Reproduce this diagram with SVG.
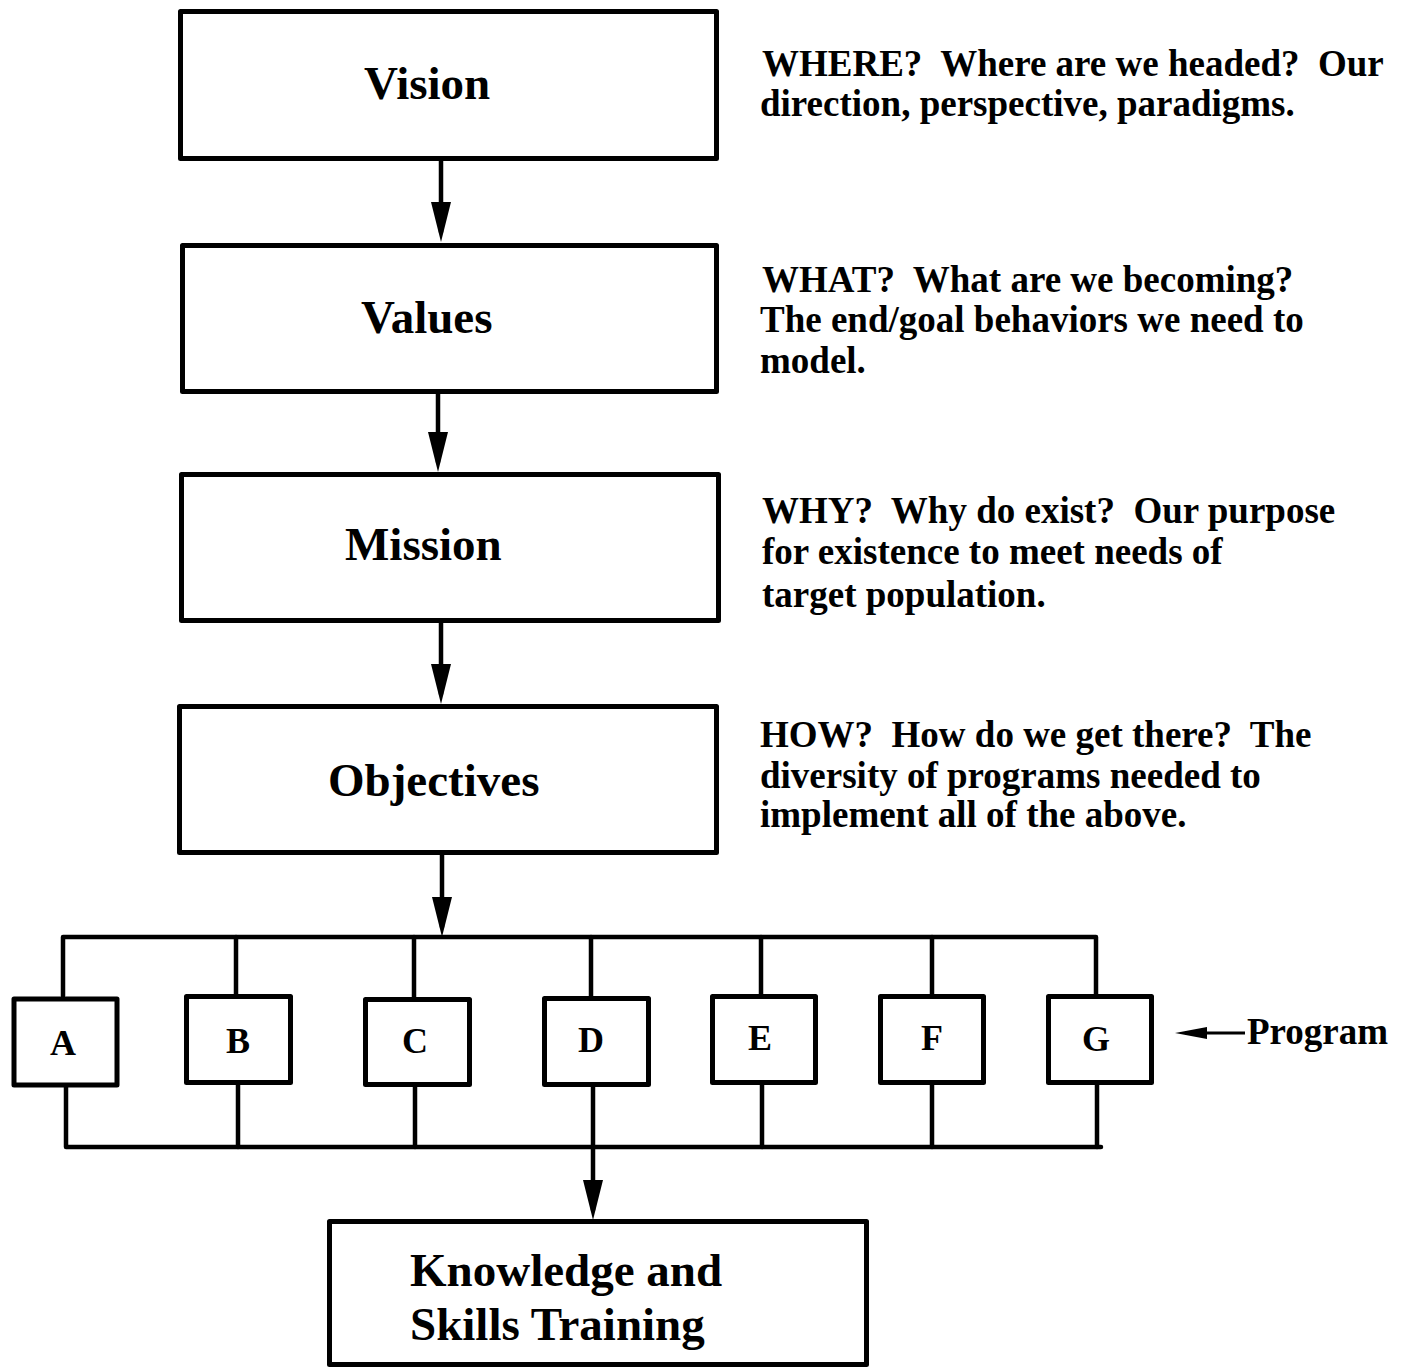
<svg xmlns="http://www.w3.org/2000/svg" width="1408" height="1368" viewBox="0 0 1408 1368">
<style>
.box{fill:#fff;stroke:#000;stroke-width:5;stroke-linejoin:round}
.pbox{fill:#fff;stroke:#000;stroke-width:5;stroke-linejoin:round}
.ln{fill:none;stroke:#000;stroke-width:4.5;stroke-linejoin:round;stroke-linecap:round}
.big{font-family:"Liberation Serif","Times New Roman",serif;font-weight:bold;font-size:47px;fill:#000}
.let{font-family:"Liberation Serif","Times New Roman",serif;font-weight:bold;font-size:36px;fill:#000;text-anchor:middle}
.note{font-family:"Liberation Serif","Times New Roman",serif;font-weight:bold;font-size:37px;fill:#000;white-space:pre}
</style>
<defs>
<marker id="ah" markerUnits="userSpaceOnUse" viewBox="0 0 40 20" refX="30" refY="10" markerWidth="40" markerHeight="20" orient="auto">
<path d="M0,0 L40,10 L0,20 z" fill="#000"/>
</marker>
<marker id="ahs" markerUnits="userSpaceOnUse" viewBox="0 0 32 12" refX="22" refY="6" markerWidth="32" markerHeight="12" orient="auto">
<path d="M0,0 L32,6 L0,12 z" fill="#000"/>
</marker>
</defs>

<g id="connectors">
<line class="ln" x1="441" y1="161" x2="441" y2="232" marker-end="url(#ah)"/>
<line class="ln" x1="438" y1="394" x2="438" y2="462" marker-end="url(#ah)"/>
<line class="ln" x1="441" y1="623" x2="441" y2="694" marker-end="url(#ah)"/>
<line class="ln" x1="442" y1="855" x2="442" y2="927" marker-end="url(#ah)"/>
<path class="ln" d="M63,996 V937 H1096 V994"/>
<line class="ln" x1="236" y1="937" x2="236" y2="994"/>
<line class="ln" x1="414" y1="937" x2="414" y2="997"/>
<line class="ln" x1="591" y1="937" x2="591" y2="996"/>
<line class="ln" x1="761" y1="937" x2="761" y2="994"/>
<line class="ln" x1="932" y1="937" x2="932" y2="994"/>
<path class="ln" d="M66,1087 V1147 H1101"/>
<line class="ln" x1="238" y1="1085" x2="238" y2="1147"/>
<line class="ln" x1="415" y1="1087" x2="415" y2="1147"/>
<line class="ln" x1="762" y1="1085" x2="762" y2="1147"/>
<line class="ln" x1="932" y1="1085" x2="932" y2="1147"/>
<line class="ln" x1="1097" y1="1085" x2="1097" y2="1147"/>
<line class="ln" x1="593" y1="1087" x2="593" y2="1210" marker-end="url(#ah)"/>
<line x1="1245" y1="1033" x2="1185" y2="1033" stroke="#000" stroke-width="3" marker-end="url(#ahs)"/>
</g>

<g id="vision">
<rect class="box" x="180.5" y="11.5" width="536" height="147"/>
<text class="big" x="364" y="99">Vision</text>
</g>
<g id="values">
<rect class="box" x="182.5" y="245.5" width="534" height="146"/>
<text class="big" x="361" y="333">Values</text>
</g>
<g id="mission">
<rect class="box" x="181.5" y="474.5" width="537" height="146"/>
<text class="big" x="345" y="560">Mission</text>
</g>
<g id="objectives">
<rect class="box" x="179.5" y="706.5" width="537" height="146"/>
<text class="big" x="328" y="796">Objectives</text>
</g>

<g id="progA"><rect class="pbox" x="14" y="999" width="103" height="86"/><text class="let" x="63" y="1055">A</text></g>
<g id="progB"><rect class="pbox" x="186.5" y="996.5" width="104" height="86"/><text class="let" x="238" y="1053">B</text></g>
<g id="progC"><rect class="pbox" x="365.5" y="999.5" width="104" height="85"/><text class="let" x="415" y="1053">C</text></g>
<g id="progD"><rect class="pbox" x="544.5" y="998.5" width="104" height="86"/><text class="let" x="591" y="1052">D</text></g>
<g id="progE"><rect class="pbox" x="712.5" y="996.5" width="103" height="86"/><text class="let" x="760" y="1050">E</text></g>
<g id="progF"><rect class="pbox" x="880.5" y="996.5" width="103" height="86"/><text class="let" x="932" y="1050">F</text></g>
<g id="progG"><rect class="pbox" x="1048.5" y="996.5" width="103" height="86"/><text class="let" x="1096" y="1051">G</text></g>

<g id="training">
<rect class="box" x="329.5" y="1221.5" width="537" height="143"/>
<text class="big" x="410" y="1286">Knowledge and</text>
<text class="big" x="410" y="1340">Skills Training</text>
</g>

<g id="notes">
<text class="note" xml:space="preserve" x="762" y="76">WHERE?  Where are we headed?  Our</text>
<text class="note" x="760" y="116">direction, perspective, paradigms.</text>
<text class="note" xml:space="preserve" x="762" y="292">WHAT?  What are we becoming?</text>
<text class="note" x="760" y="332">The end/goal behaviors we need to</text>
<text class="note" x="760" y="373">model.</text>
<text class="note" xml:space="preserve" x="762" y="523">WHY?  Why do exist?  Our purpose</text>
<text class="note" x="762" y="564">for existence to meet needs of</text>
<text class="note" x="762" y="607">target population.</text>
<text class="note" xml:space="preserve" x="760" y="747">HOW?  How do we get there?  The</text>
<text class="note" x="760" y="788">diversity of programs needed to</text>
<text class="note" x="760" y="827">implement all of the above.</text>
<text class="note" x="1247" y="1044">Program</text>
</g>
</svg>
